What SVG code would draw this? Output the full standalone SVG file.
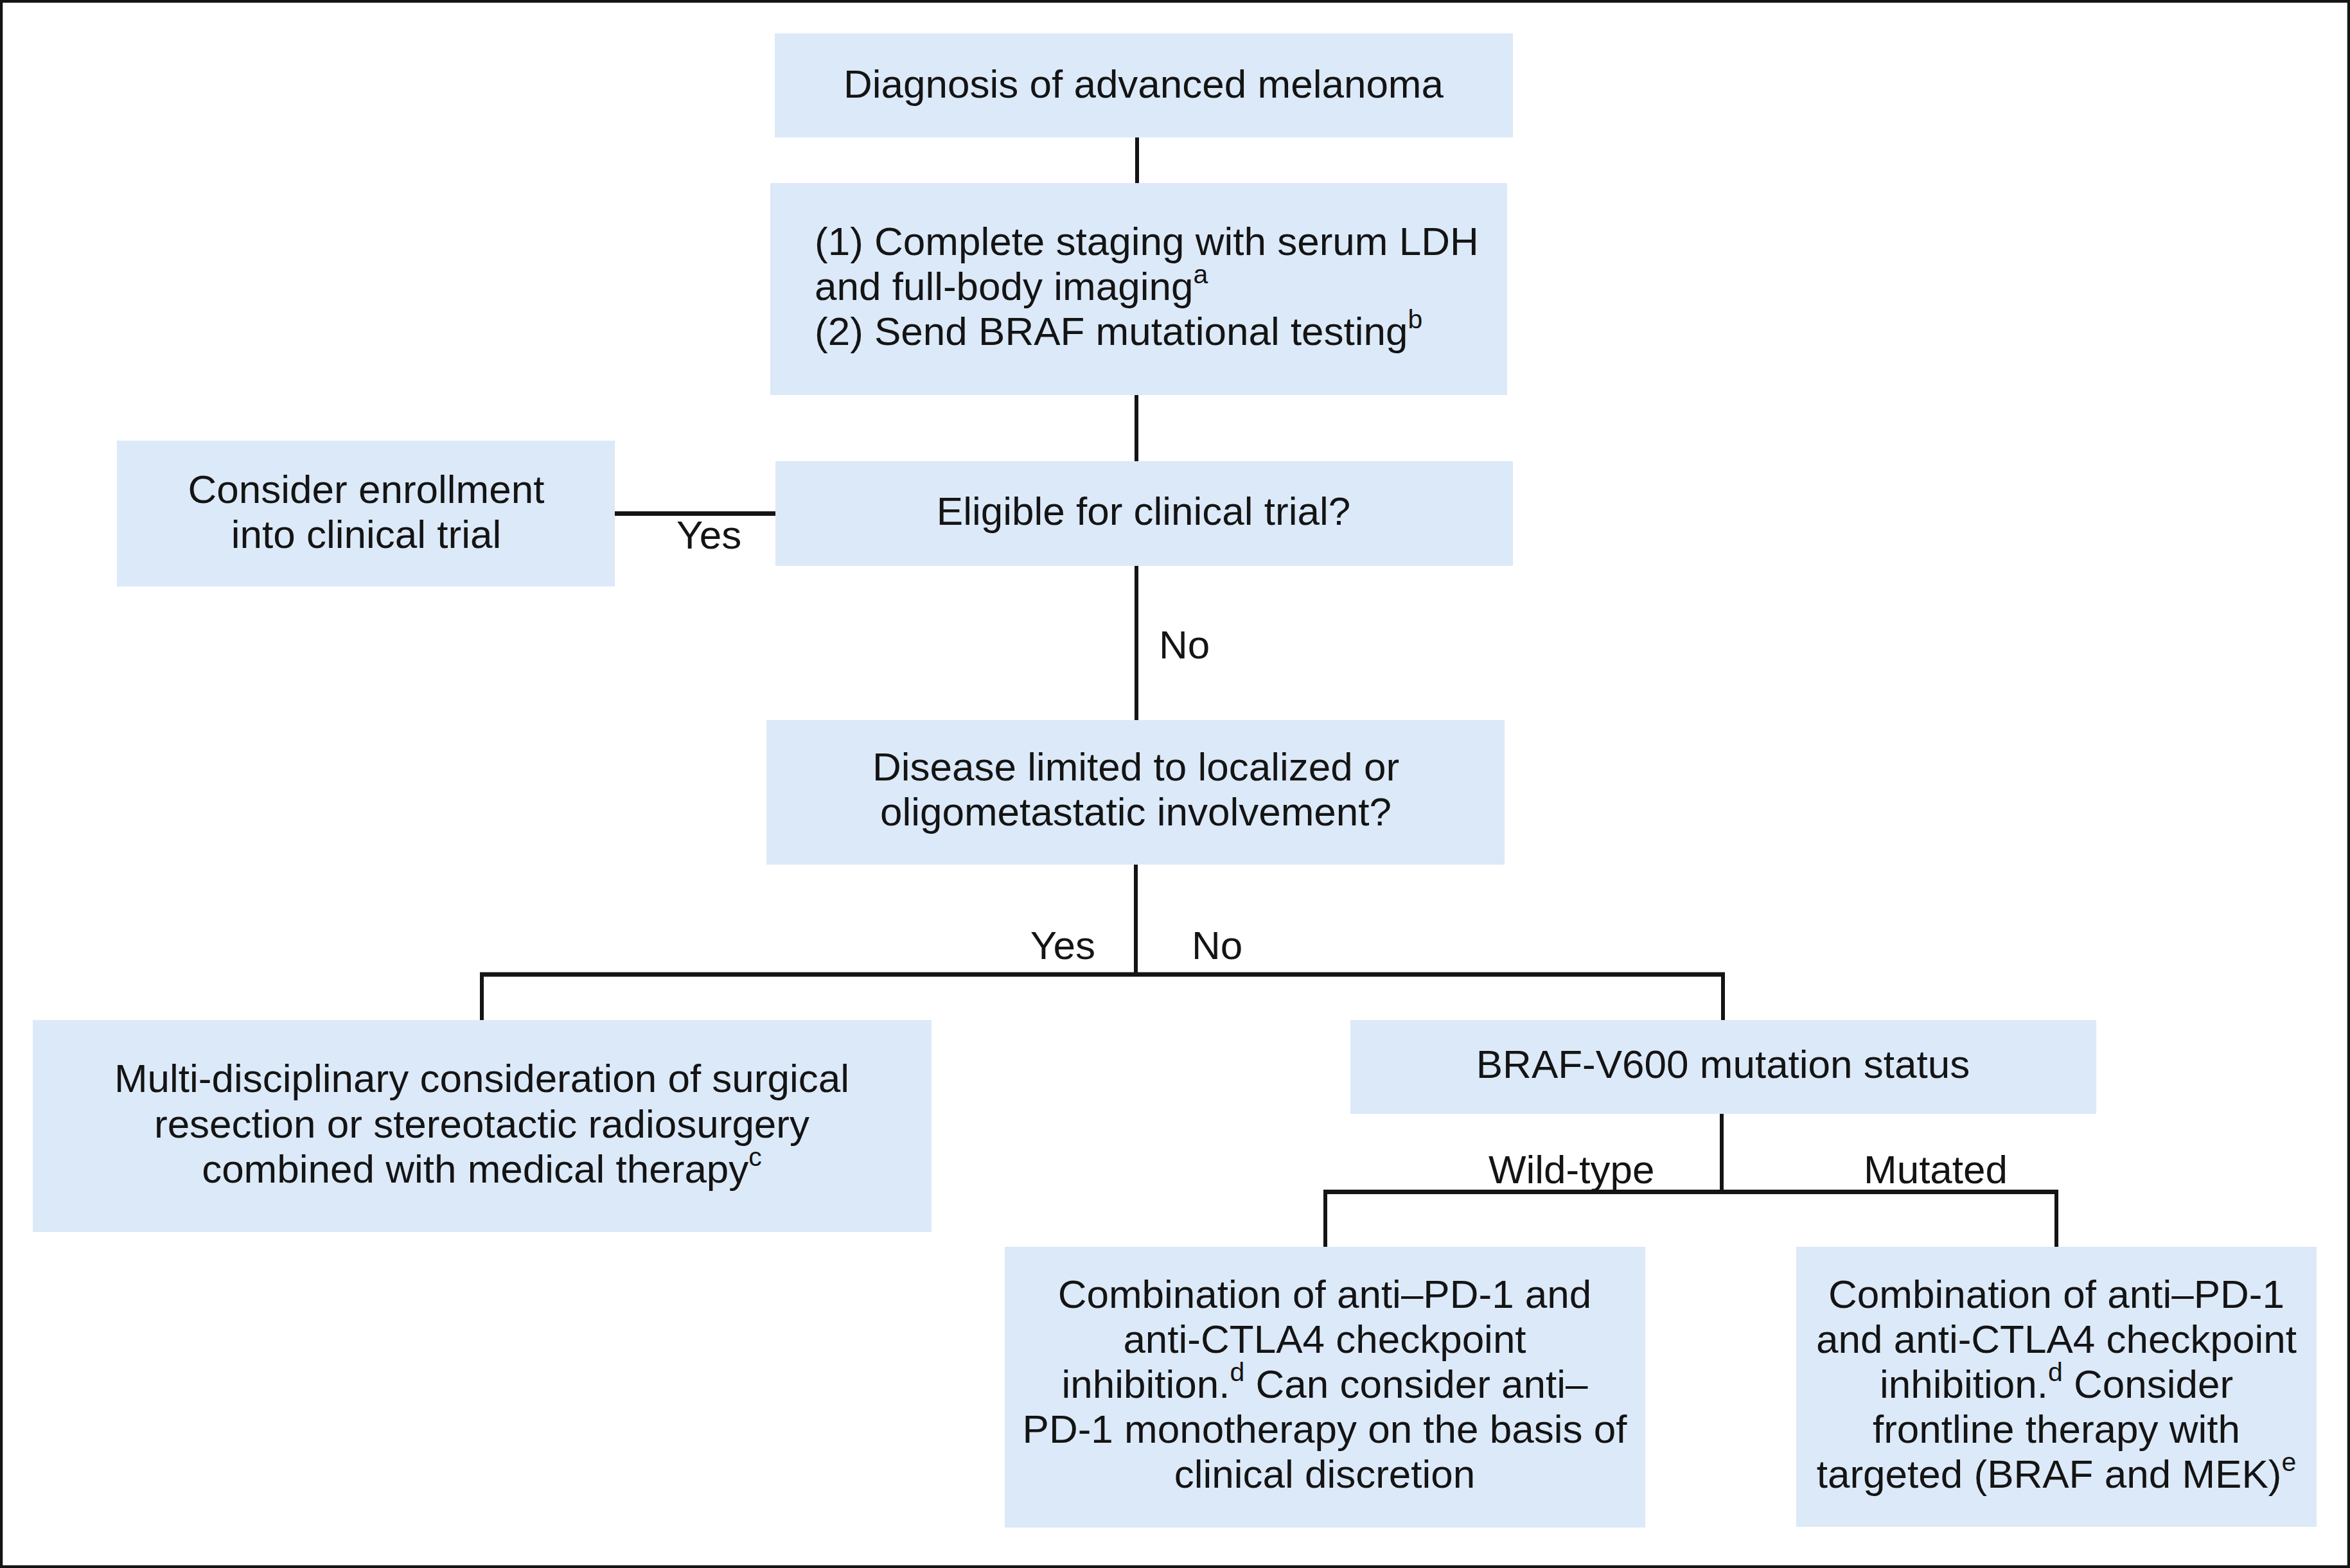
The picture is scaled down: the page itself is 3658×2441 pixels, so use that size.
<svg xmlns="http://www.w3.org/2000/svg" width="3658" height="2441" viewBox="0 0 3658 2441">
<style>
.box{fill:#dce9f8;}
.t{font-family:"Liberation Sans",Arial,Helvetica,sans-serif;font-size:62px;fill:#141414;}
.c{text-anchor:middle;}
.sup{font-size:41px;}
.ln{stroke:#141414;stroke-width:6;fill:none;}
.hl{stroke:#141414;stroke-width:7;fill:none;}
</style>
<rect x="2" y="2" width="3654" height="2437" fill="#ffffff" stroke="#141414" stroke-width="4.5"/>
<g id="connectors">
<line class="ln" x1="1770" y1="214" x2="1770" y2="285"/>
<line class="ln" x1="1769" y1="615" x2="1769" y2="718"/>
<line class="ln" x1="1769" y1="881" x2="1769" y2="1121"/>
<line class="hl" x1="957" y1="799.5" x2="1207" y2="799.5"/>
<line class="ln" x1="1768" y1="1346" x2="1768" y2="1517"/>
<line class="hl" x1="747" y1="1517" x2="2685" y2="1517"/>
<line class="ln" x1="750" y1="1517" x2="750" y2="1588"/>
<line class="ln" x1="2682" y1="1517" x2="2682" y2="1588"/>
<line class="ln" x1="2680" y1="1734" x2="2680" y2="1855"/>
<line class="hl" x1="2060" y1="1855.5" x2="3204" y2="1855.5"/>
<line class="ln" x1="2063" y1="1855" x2="2063" y2="1941"/>
<line class="ln" x1="3201" y1="1855" x2="3201" y2="1941"/>
<text class="t" x="1053" y="854">Yes</text>
<text class="t" x="1804" y="1025">No</text>
<text class="t" x="1705" y="1493" text-anchor="end">Yes</text>
<text class="t" x="1855" y="1493">No</text>
<text class="t" x="2317" y="1842">Wild-type</text>
<text class="t" x="2901" y="1842">Mutated</text>
</g>
<g id="n1">
<rect class="box" x="1206" y="52" width="1149" height="162"/>
<text class="t c" x="1780" y="152">Diagnosis of advanced melanoma</text>
</g>
<g id="n2">
<rect class="box" x="1199" y="285" width="1147" height="330"/>
<text class="t" x="1268" y="397">(1) Complete staging with serum LDH</text>
<text class="t" x="1268" y="467">and full-body imaging<tspan class="sup" dy="-26">a</tspan></text>
<text class="t" x="1268" y="537">(2) Send BRAF mutational testing<tspan class="sup" dy="-26">b</tspan></text>
</g>
<g id="n3">
<rect class="box" x="182" y="686" width="775" height="227"/>
<text class="t c" x="570" y="783">Consider enrollment</text>
<text class="t c" x="570" y="853">into clinical trial</text>
</g>
<g id="n4">
<rect class="box" x="1207" y="718" width="1148" height="163"/>
<text class="t c" x="1780" y="817">Eligible for clinical trial?</text>
</g>
<g id="n5">
<rect class="box" x="1193" y="1121" width="1149" height="225"/>
<text class="t c" x="1768" y="1215">Disease limited to localized or</text>
<text class="t c" x="1768" y="1285">oligometastatic involvement?</text>
</g>
<g id="n6">
<rect class="box" x="51" y="1588" width="1399" height="330"/>
<text class="t c" x="750" y="1700">Multi-disciplinary consideration of surgical</text>
<text class="t c" x="750" y="1771">resection or stereotactic radiosurgery</text>
<text class="t c" x="750" y="1841">combined with medical therapy<tspan class="sup" dy="-26">c</tspan></text>
</g>
<g id="n7">
<rect class="box" x="2102" y="1588" width="1161" height="146"/>
<text class="t c" x="2682" y="1678">BRAF-V600 mutation status</text>
</g>
<g id="n8">
<rect class="box" x="1564" y="1941" width="997" height="437"/>
<text class="t c" x="2062" y="2036">Combination of anti–PD-1 and</text>
<text class="t c" x="2062" y="2106">anti-CTLA4 checkpoint</text>
<text class="t c" x="2062" y="2176">inhibition.<tspan class="sup" dy="-26">d</tspan><tspan dy="26"> Can consider anti–</tspan></text>
<text class="t c" x="2062" y="2246">PD-1 monotherapy on the basis of</text>
<text class="t c" x="2062" y="2316">clinical discretion</text>
</g>
<g id="n9">
<rect class="box" x="2796" y="1941" width="810" height="436"/>
<text class="t c" x="3201" y="2036">Combination of anti–PD-1</text>
<text class="t c" x="3201" y="2106">and anti-CTLA4 checkpoint</text>
<text class="t c" x="3201" y="2176">inhibition.<tspan class="sup" dy="-26">d</tspan><tspan dy="26"> Consider</tspan></text>
<text class="t c" x="3201" y="2246">frontline therapy with</text>
<text class="t c" x="3201" y="2316">targeted (BRAF and MEK)<tspan class="sup" dy="-26">e</tspan></text>
</g>
</svg>
